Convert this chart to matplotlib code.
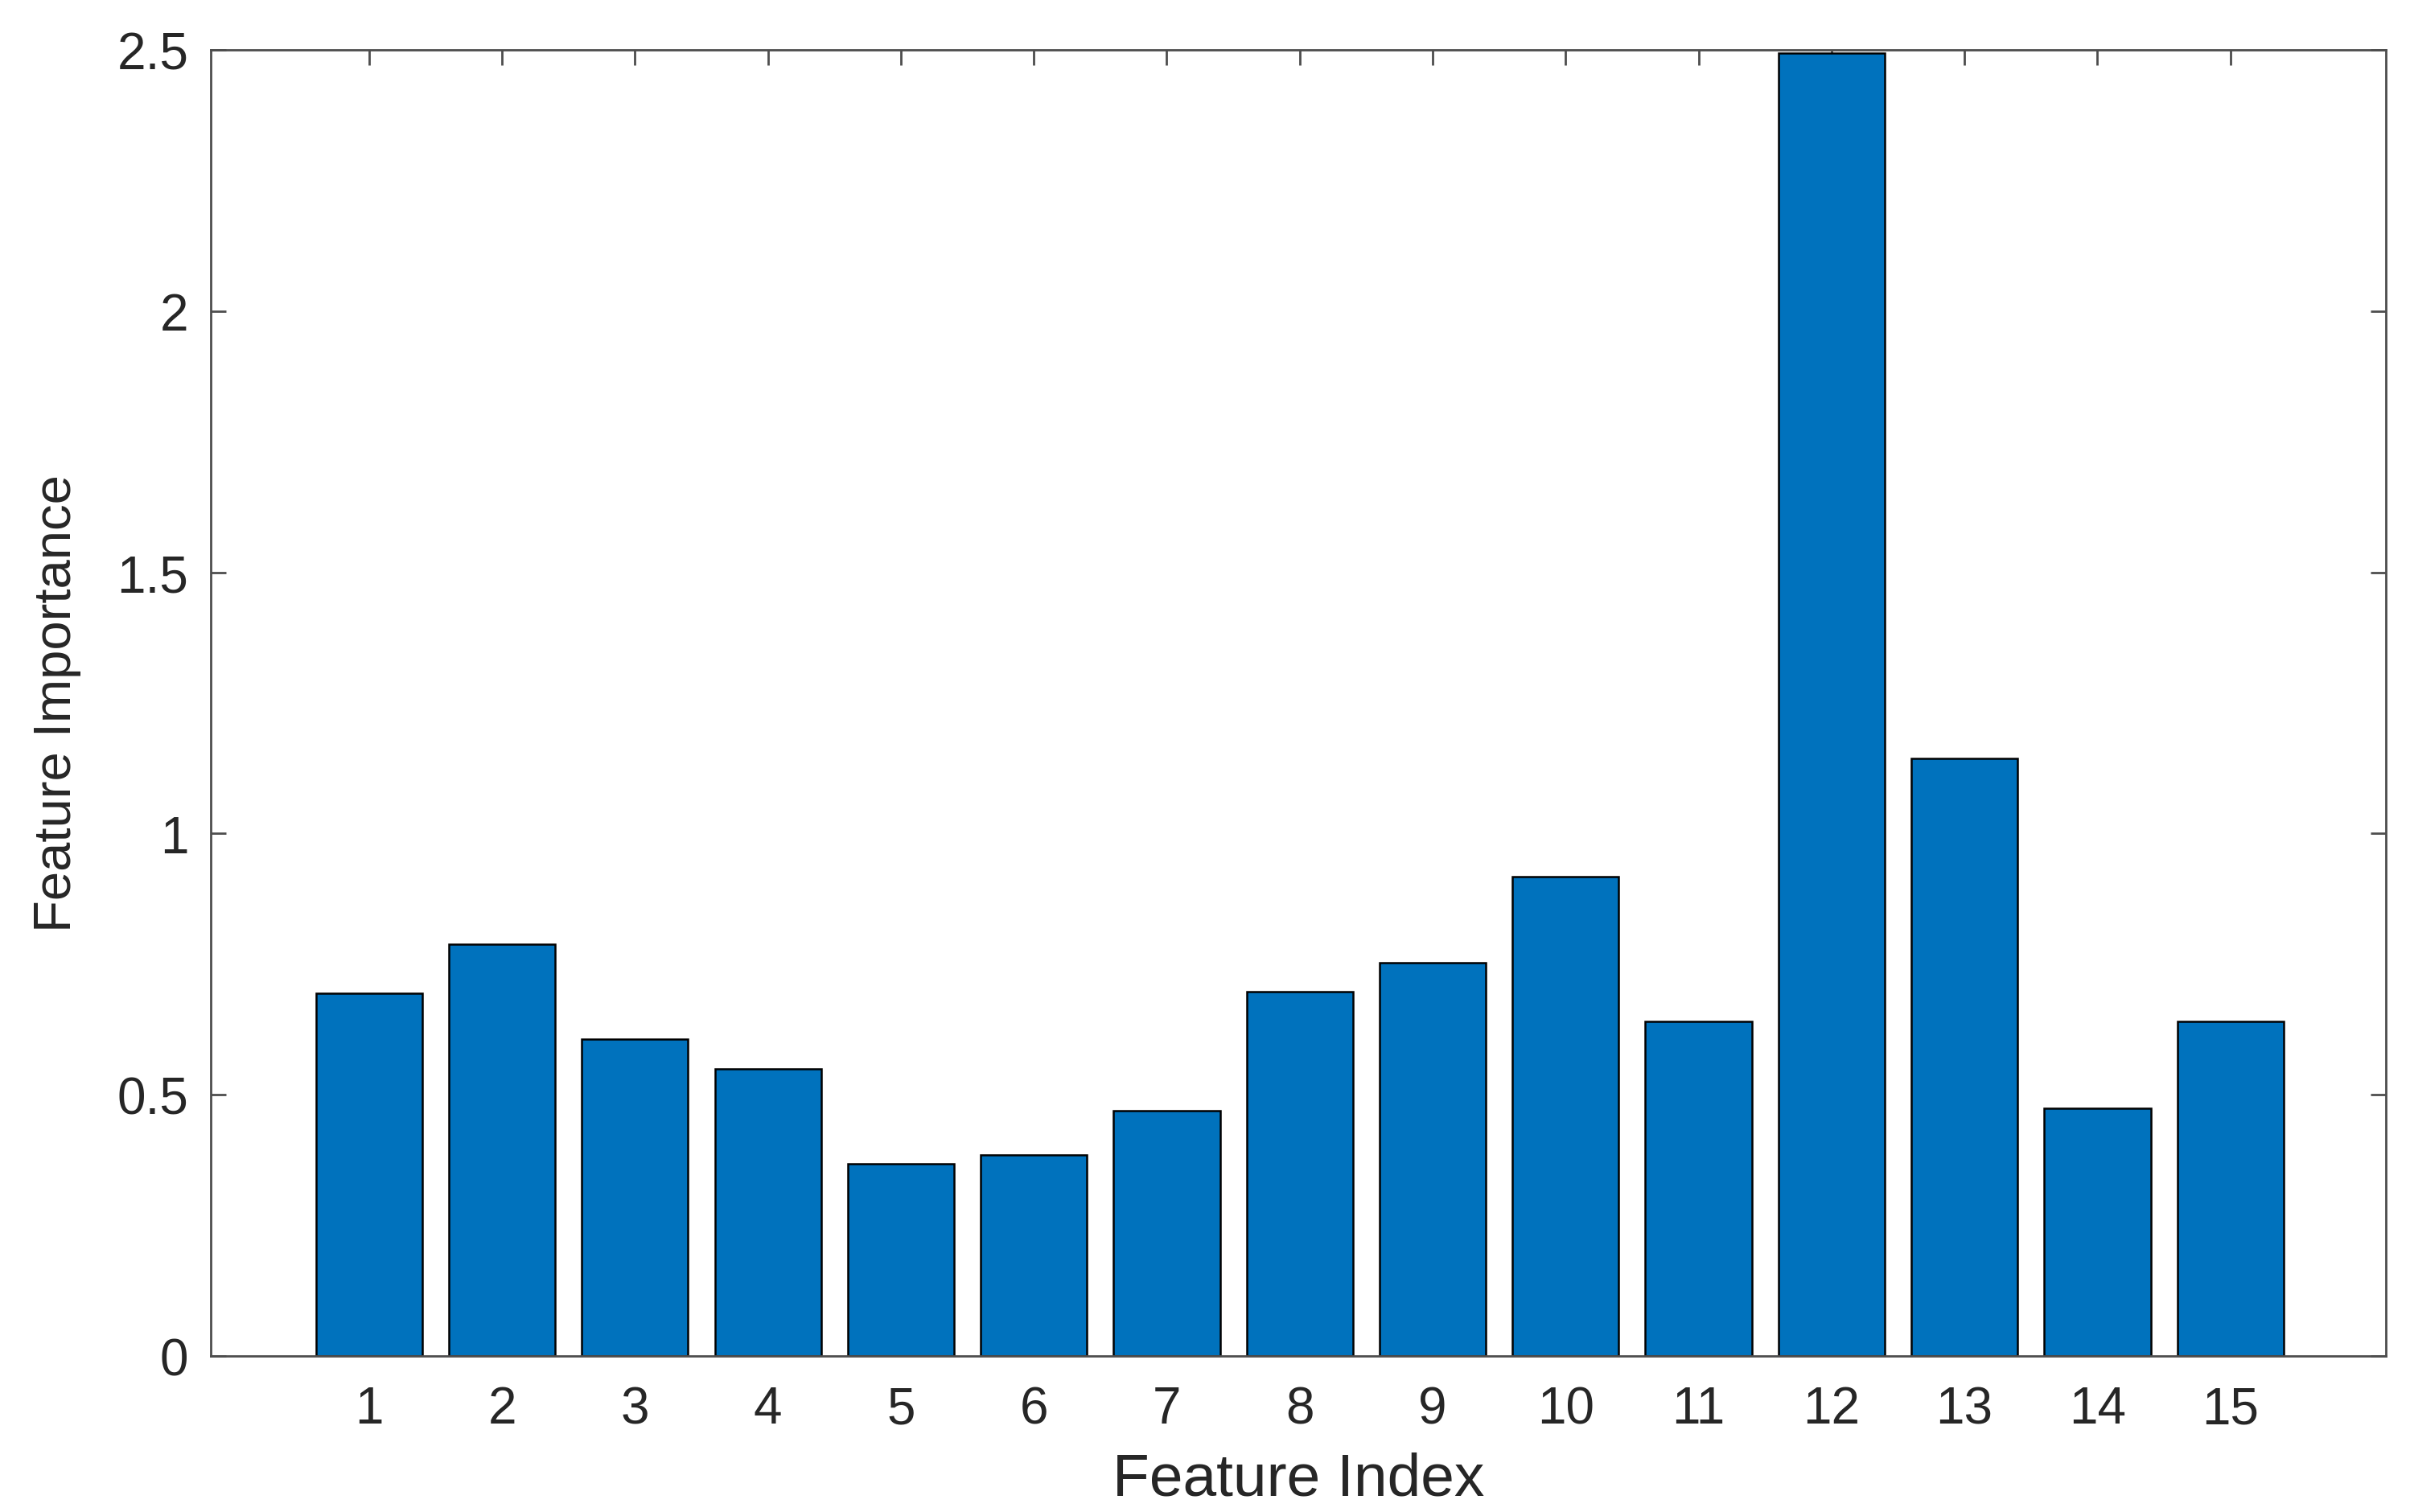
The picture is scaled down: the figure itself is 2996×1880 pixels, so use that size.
import matplotlib
matplotlib.use("Agg")
import matplotlib.pyplot as plt
import numpy as np

features = list(range(1, 16))
importance = [0.694, 0.788, 0.606, 0.550, 0.368, 0.385, 0.470, 0.697,
              0.753, 0.918, 0.641, 2.494, 1.144, 0.474, 0.641]
y_ticks = [0, 0.5, 1, 1.5, 2, 2.5]
y_tick_labels = ["0", "0.5", "1", "1.5", "2", "2.5"]

plt.rcParams['font.family'] = ['Liberation Sans', 'DejaVu Sans']

dpi = 200
fig = plt.figure(figsize=(2996 / dpi, 1881 / dpi), dpi=dpi)
ax = fig.add_axes([0.0875, 0.1031, 0.9025, 0.8634])

ax.bar(features, importance, width=0.8, color='#0072BD',
       edgecolor='black', linewidth=0.9, zorder=2)

ax.set_xlim(-0.19, 16.17)
ax.set_ylim(0, 2.5)
ax.set_xticks(features)
ax.set_xticklabels([str(f) for f in features])
ax.set_yticks(y_ticks)
ax.set_yticklabels(y_tick_labels)

spine_color = '#4d4d4d'
for s in ax.spines.values():
    s.set_color(spine_color)
    s.set_linewidth(1.0)
    s.set_zorder(3)

ax.tick_params(axis='both', which='both', direction='in', length=6.8,
               width=1.0, color=spine_color, labelsize=23,
               labelcolor='#262626', top=True, right=True, pad=10)
ax.tick_params(axis='x', pad=13)

ax.set_xlabel('Feature Index', fontsize=27, color='#262626', labelpad=8)
ax.set_ylabel('Feature Importance', fontsize=23.5, color='#262626', labelpad=16)

fig.savefig('out.png', dpi=dpi, facecolor='white')
